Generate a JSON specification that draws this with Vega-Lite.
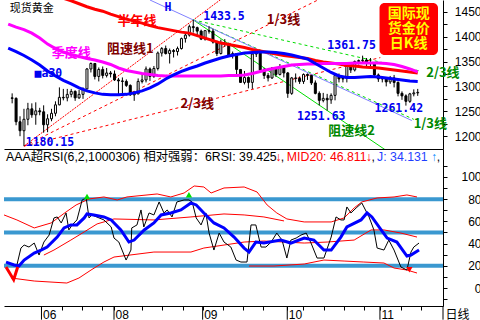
{
"$schema": "https://vega.github.io/schema/vega-lite/v6.json",
"background": "#ffffff",
"padding": 0,
"spacing": 0,
"config": {"view": {"stroke": null}, "axis": {"grid": false, "domainColor": "#000000", "tickColor": "#000000", "labelColor": "#000000", "labelFont": "Liberation Sans", "labelFontSize": 12, "domainWidth": 1, "tickWidth": 1}},
"resolve": {"scale": {"x": "independent", "y": "independent", "color": "independent"}},
"datasets": {
"candles": [
{"i":-1,"o":1277,"h":1286,"l":1266,"c":1276},{"i":0,"o":1276,"h":1278,"l":1222,"c":1229},{"i":1,"o":1229,"h":1240,"l":1200,"c":1211},{"i":2,"o":1211,"h":1255,"l":1180.15,"c":1234},
{"i":3,"o":1234,"h":1267,"l":1222,"c":1255},{"i":4,"o":1255,"h":1266,"l":1237,"c":1243},{"i":5,"o":1243,"h":1268,"l":1223,"c":1251},{"i":6,"o":1251,"h":1257,"l":1242,"c":1249},
{"i":7,"o":1249,"h":1262,"l":1207,"c":1223},{"i":8,"o":1223,"h":1244,"l":1208,"c":1235},{"i":9,"o":1235,"h":1255,"l":1230,"c":1246},{"i":10,"o":1246,"h":1270,"l":1240,"c":1263},
{"i":11,"o":1263,"h":1298,"l":1262,"c":1278},{"i":12,"o":1278,"h":1295,"l":1272,"c":1277},{"i":13,"o":1277,"h":1295,"l":1270,"c":1284},{"i":14,"o":1284,"h":1295,"l":1278,"c":1290},
{"i":15,"o":1290,"h":1292,"l":1271,"c":1277},{"i":16,"o":1277,"h":1293,"l":1275,"c":1284},{"i":17,"o":1284,"h":1298,"l":1275,"c":1295},{"i":18,"o":1295,"h":1337,"l":1294,"c":1335},
{"i":19,"o":1335,"h":1348,"l":1328,"c":1346},{"i":20,"o":1346,"h":1347,"l":1314,"c":1320},{"i":21,"o":1320,"h":1338,"l":1310,"c":1334},{"i":22,"o":1334,"h":1340,"l":1316,"c":1322},
{"i":23,"o":1322,"h":1337,"l":1318,"c":1327},{"i":24,"o":1327,"h":1331,"l":1318,"c":1325},{"i":25,"o":1325,"h":1332,"l":1311,"c":1313},{"i":26,"o":1313,"h":1317,"l":1284,"c":1311},
{"i":27,"o":1311,"h":1318,"l":1284,"c":1310},{"i":28,"o":1310,"h":1314,"l":1299,"c":1302},{"i":29,"o":1302,"h":1304,"l":1281,"c":1283},{"i":30,"o":1283,"h":1291,"l":1271,"c":1285},
{"i":31,"o":1285,"h":1316,"l":1284,"c":1310},{"i":32,"o":1310,"h":1324,"l":1306,"c":1313},{"i":33,"o":1313,"h":1340,"l":1308,"c":1335},{"i":34,"o":1335,"h":1338,"l":1311,"c":1320},
{"i":35,"o":1320,"h":1341,"l":1317,"c":1336},{"i":36,"o":1336,"h":1370,"l":1332,"c":1367},{"i":37,"o":1367,"h":1379,"l":1360,"c":1376},{"i":38,"o":1376,"h":1382,"l":1364,"c":1366},
{"i":39,"o":1366,"h":1376,"l":1346,"c":1372},{"i":40,"o":1372,"h":1375,"l":1358,"c":1370},{"i":41,"o":1370,"h":1380,"l":1362,"c":1376},{"i":42,"o":1376,"h":1398,"l":1374,"c":1396},
{"i":43,"o":1396,"h":1407,"l":1388,"c":1403},{"i":44,"o":1403,"h":1424,"l":1400,"c":1420},{"i":45,"o":1420,"h":1433.5,"l":1408,"c":1418},{"i":46,"o":1418,"h":1420,"l":1400,"c":1411},
{"i":47,"o":1411,"h":1414,"l":1393,"c":1395},{"i":48,"o":1395,"h":1412,"l":1392,"c":1412},{"i":49,"o":1412,"h":1421,"l":1406,"c":1411},{"i":50,"o":1411,"h":1416,"l":1386,"c":1389},
{"i":51,"o":1389,"h":1392,"l":1361,"c":1366},{"i":52,"o":1366,"h":1394,"l":1364,"c":1387},{"i":53,"o":1387,"h":1395,"l":1380,"c":1385},{"i":54,"o":1385,"h":1388,"l":1360,"c":1363},
{"i":55,"o":1363,"h":1370,"l":1356,"c":1366},{"i":56,"o":1366,"h":1367,"l":1319,"c":1334},{"i":57,"o":1334,"h":1335,"l":1307,"c":1308},{"i":58,"o":1308,"h":1331,"l":1304,"c":1318},
{"i":59,"o":1318,"h":1320,"l":1296,"c":1308},{"i":60,"o":1308,"h":1368,"l":1295,"c":1365},{"i":61,"o":1365,"h":1372,"l":1359,"c":1367},{"i":62,"o":1367,"h":1368,"l":1328,"c":1333},
{"i":63,"o":1333,"h":1337,"l":1315,"c":1322},{"i":64,"o":1322,"h":1327,"l":1310,"c":1317},{"i":65,"o":1317,"h":1339,"l":1315,"c":1337},{"i":66,"o":1337,"h":1339,"l":1319,"c":1324},
{"i":67,"o":1324,"h":1345,"l":1322,"c":1338},{"i":68,"o":1338,"h":1340,"l":1318,"c":1327},{"i":69,"o":1327,"h":1329,"l":1277,"c":1286},{"i":70,"o":1286,"h":1319,"l":1283,"c":1317},
{"i":71,"o":1317,"h":1326,"l":1308,"c":1316},{"i":72,"o":1316,"h":1320,"l":1305,"c":1310},{"i":73,"o":1310,"h":1326,"l":1305,"c":1324},{"i":74,"o":1324,"h":1326,"l":1313,"c":1322},
{"i":75,"o":1322,"h":1323,"l":1303,"c":1307},{"i":76,"o":1307,"h":1312,"l":1284,"c":1286},{"i":77,"o":1286,"h":1290,"l":1262,"c":1272},{"i":78,"o":1272,"h":1287,"l":1268,"c":1276},
{"i":79,"o":1276,"h":1285,"l":1251.63,"c":1273},{"i":80,"o":1273,"h":1286,"l":1265,"c":1282},{"i":81,"o":1282,"h":1324,"l":1272,"c":1322},{"i":82,"o":1322,"h":1326,"l":1308,"c":1315},
{"i":83,"o":1315,"h":1320,"l":1308,"c":1316},{"i":84,"o":1316,"h":1344,"l":1308,"c":1340},{"i":85,"o":1340,"h":1341,"l":1327,"c":1333},{"i":86,"o":1333,"h":1352,"l":1330,"c":1350},
{"i":87,"o":1350,"h":1354,"l":1344,"c":1352},{"i":88,"o":1352,"h":1361.75,"l":1347,"c":1353},{"i":89,"o":1353,"h":1357,"l":1341,"c":1346},{"i":90,"o":1346,"h":1357,"l":1340,"c":1348},
{"i":91,"o":1348,"h":1349,"l":1318,"c":1323},{"i":92,"o":1323,"h":1326,"l":1309,"c":1315},{"i":93,"o":1315,"h":1320,"l":1308,"c":1316},{"i":94,"o":1316,"h":1317,"l":1300,"c":1309},
{"i":95,"o":1309,"h":1321,"l":1305,"c":1317},{"i":96,"o":1317,"h":1323,"l":1298,"c":1308},{"i":97,"o":1308,"h":1310,"l":1280,"c":1286},{"i":98,"o":1286,"h":1290,"l":1273,"c":1281},
{"i":99,"o":1281,"h":1284,"l":1261.42,"c":1270},{"i":100,"o":1270,"h":1287,"l":1267,"c":1285},{"i":101,"o":1285,"h":1294,"l":1280,"c":1287},{"i":102,"o":1287,"h":1295,"l":1281,"c":1288}
],
"ma": [
{"i":-2,"hy":1512,"q":1425,"m":1377},{"i":0,"hy":1508,"q":1419,"m":1370},{"i":2,"hy":1502,"q":1414,"m":1362},{"i":4,"hy":1496,"q":1407,"m":1353},
{"i":6,"hy":1490,"q":1397,"m":1343},{"i":8,"hy":1486,"q":1385,"m":1331},{"i":10,"hy":1482,"q":1376,"m":1321},{"i":12,"hy":1477,"q":1369,"m":1312},
{"i":14,"hy":1472,"q":1364,"m":1305},{"i":16,"hy":1466,"q":1360,"m":1297},{"i":18,"hy":1460,"q":1356,"m":1291},{"i":20,"hy":1455,"q":1353,"m":1287},
{"i":22,"hy":1451,"q":1349,"m":1284},{"i":24,"hy":1445,"q":1344,"m":1283},{"i":26,"hy":1440,"q":1337,"m":1283},{"i":28,"hy":1435,"q":1332,"m":1284},
{"i":30,"hy":1431,"q":1329,"m":1287},{"i":32,"hy":1427,"q":1326,"m":1291},{"i":34,"hy":1422,"q":1324,"m":1297},{"i":36,"hy":1418,"q":1322,"m":1305},
{"i":38,"hy":1415,"q":1321,"m":1315},{"i":40,"hy":1412,"q":1321,"m":1323},{"i":42,"hy":1409,"q":1321,"m":1330},{"i":44,"hy":1407,"q":1321,"m":1336},
{"i":46,"hy":1402,"q":1321,"m":1341},{"i":48,"hy":1397,"q":1321,"m":1347},{"i":50,"hy":1392,"q":1321,"m":1352},{"i":52,"hy":1387,"q":1321,"m":1357},
{"i":54,"hy":1384,"q":1322,"m":1361},{"i":56,"hy":1381,"q":1322,"m":1364},{"i":58,"hy":1378,"q":1323,"m":1367},{"i":60,"hy":1374,"q":1326,"m":1368},
{"i":62,"hy":1371,"q":1330,"m":1369},{"i":64,"hy":1368,"q":1334,"m":1369},{"i":66,"hy":1365,"q":1337,"m":1368},{"i":68,"hy":1362,"q":1340,"m":1366},
{"i":70,"hy":1360,"q":1343,"m":1363},{"i":72,"hy":1358,"q":1344,"m":1359},{"i":74,"hy":1356,"q":1345,"m":1355},{"i":76,"hy":1352,"q":1345,"m":1346},
{"i":78,"hy":1349,"q":1346,"m":1337},{"i":80,"hy":1347,"q":1346,"m":1328},{"i":82,"hy":1345,"q":1346,"m":1321},{"i":84,"hy":1342,"q":1346,"m":1318},
{"i":86,"hy":1341,"q":1347,"m":1318},{"i":88,"hy":1339,"q":1347,"m":1319},{"i":90,"hy":1338,"q":1347,"m":1320},{"i":92,"hy":1337,"q":1347,"m":1319},
{"i":94,"hy":1335,"q":1346,"m":1317},{"i":96,"hy":1333,"q":1344,"m":1315},{"i":98,"hy":1331,"q":1340,"m":1313},{"i":100,"hy":1329,"q":1335,"m":1311},
{"i":102,"hy":1327,"q":1329,"m":1310}
],
"trend": [
{"kind":"redfull","i":2,"p":1180.15,"i2":52,"p2":1474.65},
{"kind":"reddash","i":2,"p":1180.15,"i2":77,"p2":1474.9},
{"kind":"reddash","i":2,"p":1180.15,"i2":92.5,"p2":1357.9},
{"kind":"greensolid","i":45,"p":1433.5,"i2":94,"p2":1171.4},
{"kind":"greendash","i":45,"p":1433.5,"i2":102.4,"p2":1331.2},
{"kind":"greendash","i":45,"p":1433.5,"i2":101,"p2":1233.8},
{"kind":"hline","i":34,"p":1473.5,"i2":100.5,"p2":1231.5}
],
"title": [{"i":4.0,"p":1455,"t":"现货黄金"}],
"notes": [
{"kind":"red","i":30.7,"p":1431,"t":"半年线"},
{"kind":"magenta","i":14,"p":1368,"t":"季度线"},
{"kind":"darkred","i":29,"p":1375,"t":"阻速线1"},
{"kind":"darkred","i":67.9,"p":1433,"t":"1/3线"},
{"kind":"darkred","i":46,"p":1265,"t":"2/3线"},
{"kind":"green","i":85.2,"p":1210.5,"t":"阻速线2"},
{"kind":"green","i":108.4,"p":1327,"t":"2/3线"},
{"kind":"green","i":105.2,"p":1224.5,"t":"1/3线"}
],
"nums": [
{"i":8.2,"p":1325,"t":"■a30"},
{"i":52.8,"p":1439,"t":"1433.5"},
{"i":8.6,"p":1186,"t":"1180.15"},
{"i":85.2,"p":1381,"t":"1361.75"},
{"i":77.5,"p":1237.6,"t":"1251.63"},
{"i":97.2,"p":1254.6,"t":"1261.42"},
{"i":38.6,"p":1458,"t":"H"}
],
"box": [{"i":92.3,"i2":107.15,"p":1467.5,"p2":1363}],
"boxtext": [
{"i":99.7,"t":"国际现","p":1445.5},{"i":99.7,"t":"货金价","p":1414.5},{"i":99.7,"t":"日K线","p":1384.5}
],
"levels": [{"v":20},{"v":50},{"v":80}],
"months": [{"i":7.5},{"i":25.5},{"i":47.5},{"i":68.5},{"i":91.5},{"i":107.15}],
"bands": [
{"b":"r1","i":-1.8,"v":65.8},{"b":"r1","i":1.4,"v":61.3},{"b":"r1","i":5.7,"v":54.1},{"b":"r1","i":9.9,"v":58.6},{"b":"r1","i":13.6,"v":68.5},{"b":"r1","i":16.1,"v":74.8},{"b":"r1","i":19.3,"v":80.2},{"b":"r1","i":23.0,"v":82.0},{"b":"r1","i":26.3,"v":79.3},{"b":"r1","i":28.7,"v":82.0},{"b":"r1","i":36.2,"v":84.7},{"b":"r1","i":39.6,"v":82.0},{"b":"r1","i":42.9,"v":85.6},{"b":"r1","i":45.4,"v":91.9},{"b":"r1","i":47.8,"v":91.0},{"b":"r1","i":49.6,"v":85.6},{"b":"r1","i":52.8,"v":90.1},{"b":"r1","i":57.8,"v":91.0},{"b":"r1","i":61.0,"v":86.5},{"b":"r1","i":63.5,"v":74.8},{"b":"r1","i":65.9,"v":67.6},{"b":"r1","i":68.4,"v":62.2},{"b":"r1","i":72.7,"v":59.5},{"b":"r1","i":79.4,"v":59.5},{"b":"r1","i":82.6,"v":63.1},{"b":"r1","i":85.1,"v":72.1},{"b":"r1","i":87.0,"v":77.5},{"b":"r1","i":90.8,"v":81.1},{"b":"r1","i":95.0,"v":82.0},{"b":"r1","i":98.2,"v":83.8},{"b":"r1","i":100.7,"v":82.0},
{"b":"r2","i":8.1,"v":29.7},{"b":"r2","i":10.6,"v":34.2},{"b":"r2","i":14.8,"v":43.2},{"b":"r2","i":18.1,"v":50.5},{"b":"r2","i":21.3,"v":57.7},{"b":"r2","i":25.5,"v":62.2},{"b":"r2","i":35.4,"v":61.3},{"b":"r2","i":44.6,"v":64.0},{"b":"r2","i":52.8,"v":66.7},{"b":"r2","i":57.8,"v":65.8},{"b":"r2","i":62.7,"v":64.0},{"b":"r2","i":67.7,"v":60.4},
{"b":"r3","i":0.0,"v":9.0},{"b":"r3","i":5.7,"v":6.3},{"b":"r3","i":13.8,"v":4.5},{"b":"r3","i":16.8,"v":9.0},{"b":"r3","i":19.8,"v":16.2},{"b":"r3","i":23.0,"v":23.4},{"b":"r3","i":25.5,"v":27.9},{"b":"r3","i":35.4,"v":32.4},{"b":"r3","i":44.6,"v":32.4},{"b":"r3","i":47.8,"v":36.0},{"b":"r3","i":57.8,"v":41.4},{"b":"r3","i":62.7,"v":42.3},{"b":"r3","i":72.7,"v":40.5},{"b":"r3","i":78.4,"v":41.4},{"b":"r3","i":85.1,"v":43.2},{"b":"r3","i":89.3,"v":52.3},{"b":"r3","i":92.5,"v":52.3},{"b":"r3","i":96.7,"v":49.5},{"b":"r3","i":100.7,"v":45.9},
{"b":"r4","i":59.0,"v":19.8},{"b":"r4","i":65.2,"v":19.8},{"b":"r4","i":72.7,"v":21.6},{"b":"r4","i":77.6,"v":25.2},{"b":"r4","i":82.6,"v":24.3},{"b":"r4","i":87.5,"v":23.4},{"b":"r4","i":92.5,"v":22.5},{"b":"r4","i":95.0,"v":18.0},{"b":"r4","i":98.2,"v":16.2},{"b":"r4","i":100.7,"v":13.5}
],
"rsi": [
{"i":1.4,"v":20.7},{"i":2.4,"v":36.0},{"i":3.2,"v":38.7},{"i":4.4,"v":36.9},{"i":5.7,"v":40.5},{"i":6.9,"v":29.7},{"i":8.1,"v":41.4},{"i":9.4,"v":47.7},{"i":10.6,"v":63.1},{"i":11.4,"v":64.0},{"i":12.4,"v":58.6},{"i":13.6,"v":67.6},{"i":14.3,"v":52.3},{"i":15.1,"v":56.8},{"i":16.3,"v":61.3},{"i":17.6,"v":79.3},{"i":18.6,"v":81.1},{"i":19.3,"v":63.1},{"i":20.0,"v":65.8},{"i":23.0,"v":61.3},{"i":24.8,"v":55.0},{"i":25.5,"v":45.0},{"i":26.7,"v":41.4},{"i":27.5,"v":34.2},{"i":28.5,"v":25.2},{"i":29.7,"v":34.2},{"i":29.9,"v":54.1},{"i":31.2,"v":56.8},{"i":32.2,"v":70.3},{"i":32.9,"v":55.0},{"i":34.2,"v":67.6},{"i":35.4,"v":65.8},{"i":36.7,"v":77.5},{"i":37.9,"v":67.6},{"i":38.7,"v":70.3},{"i":39.9,"v":64.0},{"i":41.1,"v":77.5},{"i":42.9,"v":79.3},{"i":44.1,"v":79.3},{"i":44.9,"v":77.5},{"i":45.9,"v":63.1},{"i":47.1,"v":56.8},{"i":48.3,"v":67.6},{"i":49.1,"v":49.5},{"i":50.3,"v":34.2},{"i":51.6,"v":49.5},{"i":52.8,"v":41.4},{"i":54.5,"v":36.9},{"i":55.8,"v":25.2},{"i":57.0,"v":23.4},{"i":58.5,"v":23.4},{"i":59.5,"v":56.8},{"i":60.7,"v":56.8},{"i":62.0,"v":36.9},{"i":63.2,"v":36.9},{"i":64.5,"v":41.4},{"i":65.9,"v":49.5},{"i":67.2,"v":43.2},{"i":68.4,"v":27.0},{"i":69.4,"v":43.2},{"i":70.7,"v":45.0},{"i":71.9,"v":47.7},{"i":73.2,"v":49.5},{"i":74.4,"v":40.5},{"i":75.9,"v":27.0},{"i":77.6,"v":27.0},{"i":79.4,"v":45.9},{"i":80.6,"v":64.0},{"i":81.8,"v":61.3},{"i":82.6,"v":61.3},{"i":83.3,"v":73.0},{"i":84.3,"v":67.6},{"i":85.6,"v":72.1},{"i":87.0,"v":76.6},{"i":88.8,"v":64.0},{"i":90.0,"v":52.3},{"i":90.8,"v":36.0},{"i":92.5,"v":34.2},{"i":93.7,"v":43.2},{"i":95.0,"v":34.2},{"i":96.7,"v":18.9},{"i":98.2,"v":16.2},{"i":99.2,"v":32.4},{"i":99.9,"v":36.9},{"i":101.2,"v":40.5}
],
"rsima": [
{"i":-1.3,"v":23.4},{"i":0.7,"v":20.7},{"i":1.9,"v":19.8},{"i":3.2,"v":25.2},{"i":5.7,"v":31.5},{"i":7.4,"v":34.2},{"i":8.9,"v":36.9},{"i":11.4,"v":45.9},{"i":13.1,"v":54.1},{"i":14.8,"v":56.8},{"i":16.3,"v":56.8},{"i":18.1,"v":63.1},{"i":18.8,"v":66.7},{"i":20.5,"v":65.8},{"i":23.0,"v":64.0},{"i":24.8,"v":61.3},{"i":27.2,"v":52.3},{"i":29.2,"v":41.4},{"i":30.5,"v":43.2},{"i":33.0,"v":52.3},{"i":35.4,"v":58.6},{"i":37.2,"v":65.8},{"i":39.6,"v":67.6},{"i":42.1,"v":70.3},{"i":44.6,"v":76.6},{"i":45.9,"v":74.8},{"i":47.8,"v":67.6},{"i":50.3,"v":58.6},{"i":52.8,"v":54.1},{"i":55.3,"v":45.9},{"i":57.8,"v":36.0},{"i":59.0,"v":32.4},{"i":60.7,"v":41.4},{"i":62.7,"v":40.5},{"i":66.9,"v":43.2},{"i":69.4,"v":40.5},{"i":72.7,"v":45.0},{"i":75.1,"v":43.2},{"i":77.6,"v":34.2},{"i":79.4,"v":34.2},{"i":81.8,"v":45.9},{"i":83.3,"v":55.0},{"i":86.8,"v":61.3},{"i":88.3,"v":67.6},{"i":89.5,"v":64.0},{"i":91.8,"v":52.3},{"i":93.3,"v":45.0},{"i":95.7,"v":41.4},{"i":98.2,"v":28.8},{"i":99.2,"v":29.7},{"i":101.2,"v":34.2}
],
"vmark": [{"i":-1.3,"v":18.9},{"i":0.6,"v":7.5},{"i":1.6,"v":18.9}],
"sigup": [{"i":18.8,"v":82.5},{"i":44.1,"v":84}],
"sigdown": [{"i":98.8,"v":16.5}],
"hdr": [
{"i":-1.29,"t":"AAA超RSI(6,2,1000306) 相对强弱：6RSI: 39.425","col":"k"},
{"i":65.5,"t":"↓","col":"r"},
{"i":66.9,"t":",","col":"k"},
{"i":68.4,"t":"MID20: 46.811","col":"r"},
{"i":88.0,"t":"↓","col":"r"},
{"i":89.4,"t":",","col":"k"},
{"i":90.8,"t":"J: 34.131","col":"b"},
{"i":104.2,"t":"↑","col":"c"},
{"i":105.6,"t":",","col":"k"}
]
},
"vconcat": [
{
"width": 439, "height": 149,
"encoding": {"x": {"field": "i", "type": "quantitative", "scale": {"domain": [-1.8, 107.15], "nice": false, "zero": false}, "axis": {"orient": "bottom", "title": null, "ticks": false, "labels": false, "domainColor": "#000000"}}},
"layer": [
{"data": {"name": "trend"}, "transform": [{"filter": "datum.kind == 'redfull'"}],
 "mark": {"type": "rule", "color": "#ff0000", "strokeWidth": 1, "strokeDash": [2, 1], "clip": true},
 "encoding": {"x2": {"field": "i2"},
  "y": {"field": "p", "type": "quantitative", "scale": {"domain": [1174.3, 1473.5], "nice": false, "zero": false}, "axis": {"orient": "right", "title": null, "values": [1200, 1225, 1250, 1275, 1300, 1325, 1350, 1375, 1400, 1425, 1450], "format": "d", "labelExpr": "datum.value % 50 == 0 ? datum.label : ''", "tickSize": 4, "labelPadding": 34, "labelAlign": "right", "labelBaseline": "middle", "labelOverlap": false, "labelBound": false}},
  "y2": {"field": "p2"}}},
{"data": {"name": "trend"}, "transform": [{"filter": "datum.kind == 'reddash'"}],
 "mark": {"type": "rule", "color": "#ff0000", "strokeWidth": 1, "strokeDash": [3, 3], "clip": true},
 "encoding": {"x2": {"field": "i2"},
  "y": {"field": "p", "type": "quantitative", "scale": {"domain": [1174.3, 1473.5], "nice": false, "zero": false}, "axis": {"orient": "right", "title": null, "values": [1200, 1225, 1250, 1275, 1300, 1325, 1350, 1375, 1400, 1425, 1450], "format": "d", "labelExpr": "datum.value % 50 == 0 ? datum.label : ''", "tickSize": 4, "labelPadding": 34, "labelAlign": "right", "labelBaseline": "middle", "labelOverlap": false, "labelBound": false}},
  "y2": {"field": "p2"}}},
{"data": {"name": "trend"}, "transform": [{"filter": "datum.kind == 'greensolid'"}],
 "mark": {"type": "rule", "color": "#00dd00", "strokeWidth": 1, "clip": true},
 "encoding": {"x2": {"field": "i2"},
  "y": {"field": "p", "type": "quantitative", "scale": {"domain": [1174.3, 1473.5], "nice": false, "zero": false}, "axis": {"orient": "right", "title": null, "values": [1200, 1225, 1250, 1275, 1300, 1325, 1350, 1375, 1400, 1425, 1450], "format": "d", "labelExpr": "datum.value % 50 == 0 ? datum.label : ''", "tickSize": 4, "labelPadding": 34, "labelAlign": "right", "labelBaseline": "middle", "labelOverlap": false, "labelBound": false}},
  "y2": {"field": "p2"}}},
{"data": {"name": "trend"}, "transform": [{"filter": "datum.kind == 'greendash'"}],
 "mark": {"type": "rule", "color": "#00dd00", "strokeWidth": 1, "strokeDash": [3, 3], "clip": true},
 "encoding": {"x2": {"field": "i2"},
  "y": {"field": "p", "type": "quantitative", "scale": {"domain": [1174.3, 1473.5], "nice": false, "zero": false}, "axis": {"orient": "right", "title": null, "values": [1200, 1225, 1250, 1275, 1300, 1325, 1350, 1375, 1400, 1425, 1450], "format": "d", "labelExpr": "datum.value % 50 == 0 ? datum.label : ''", "tickSize": 4, "labelPadding": 34, "labelAlign": "right", "labelBaseline": "middle", "labelOverlap": false, "labelBound": false}},
  "y2": {"field": "p2"}}},
{"data": {"name": "trend"}, "transform": [{"filter": "datum.kind == 'hline'"}],
 "mark": {"type": "rule", "color": "#8080ff", "strokeWidth": 1, "clip": true},
 "encoding": {"x2": {"field": "i2"},
  "y": {"field": "p", "type": "quantitative", "scale": {"domain": [1174.3, 1473.5], "nice": false, "zero": false}, "axis": {"orient": "right", "title": null, "values": [1200, 1225, 1250, 1275, 1300, 1325, 1350, 1375, 1400, 1425, 1450], "format": "d", "labelExpr": "datum.value % 50 == 0 ? datum.label : ''", "tickSize": 4, "labelPadding": 34, "labelAlign": "right", "labelBaseline": "middle", "labelOverlap": false, "labelBound": false}},
  "y2": {"field": "p2"}}},
{"data": {"name": "candles"},
 "mark": {"type": "rule", "color": "#000000", "strokeWidth": 1},
 "encoding": {
  "y": {"field": "l", "type": "quantitative", "scale": {"domain": [1174.3, 1473.5], "nice": false, "zero": false}, "axis": {"orient": "right", "title": null, "values": [1200, 1225, 1250, 1275, 1300, 1325, 1350, 1375, 1400, 1425, 1450], "format": "d", "labelExpr": "datum.value % 50 == 0 ? datum.label : ''", "tickSize": 4, "labelPadding": 34, "labelAlign": "right", "labelBaseline": "middle", "labelOverlap": false, "labelBound": false}},
  "y2": {"field": "h"}}},
{"data": {"name": "candles"},
 "mark": {"type": "bar", "size": 2, "stroke": "#000000", "strokeWidth": 1, "orient": "vertical"},
 "encoding": {
  "y": {"field": "o", "type": "quantitative", "scale": {"domain": [1174.3, 1473.5], "nice": false, "zero": false}, "axis": {"orient": "right", "title": null, "values": [1200, 1225, 1250, 1275, 1300, 1325, 1350, 1375, 1400, 1425, 1450], "format": "d", "labelExpr": "datum.value % 50 == 0 ? datum.label : ''", "tickSize": 4, "labelPadding": 34, "labelAlign": "right", "labelBaseline": "middle", "labelOverlap": false, "labelBound": false}},
  "y2": {"field": "c"},
  "fill": {"condition": {"test": "datum.c < datum.o", "value": "#000000"}, "value": "#ffffff"}}},
{"data": {"name": "ma"},
 "mark": {"type": "line", "color": "#ff0000", "strokeWidth": 3, "clip": true},
 "encoding": {
  "y": {"field": "hy", "type": "quantitative", "scale": {"domain": [1174.3, 1473.5], "nice": false, "zero": false}, "axis": {"orient": "right", "title": null, "values": [1200, 1225, 1250, 1275, 1300, 1325, 1350, 1375, 1400, 1425, 1450], "format": "d", "labelExpr": "datum.value % 50 == 0 ? datum.label : ''", "tickSize": 4, "labelPadding": 34, "labelAlign": "right", "labelBaseline": "middle", "labelOverlap": false, "labelBound": false}}}},
{"data": {"name": "ma"},
 "mark": {"type": "line", "color": "#ff00ff", "strokeWidth": 3, "clip": true},
 "encoding": {
  "y": {"field": "q", "type": "quantitative", "scale": {"domain": [1174.3, 1473.5], "nice": false, "zero": false}, "axis": {"orient": "right", "title": null, "values": [1200, 1225, 1250, 1275, 1300, 1325, 1350, 1375, 1400, 1425, 1450], "format": "d", "labelExpr": "datum.value % 50 == 0 ? datum.label : ''", "tickSize": 4, "labelPadding": 34, "labelAlign": "right", "labelBaseline": "middle", "labelOverlap": false, "labelBound": false}}}},
{"data": {"name": "ma"},
 "mark": {"type": "line", "color": "#0000ff", "strokeWidth": 3, "clip": true},
 "encoding": {
  "y": {"field": "m", "type": "quantitative", "scale": {"domain": [1174.3, 1473.5], "nice": false, "zero": false}, "axis": {"orient": "right", "title": null, "values": [1200, 1225, 1250, 1275, 1300, 1325, 1350, 1375, 1400, 1425, 1450], "format": "d", "labelExpr": "datum.value % 50 == 0 ? datum.label : ''", "tickSize": 4, "labelPadding": 34, "labelAlign": "right", "labelBaseline": "middle", "labelOverlap": false, "labelBound": false}}}},
{"data": {"name": "box"},
 "mark": {"type": "rect", "fill": "#ff0000", "cornerRadius": 5},
 "encoding": {"x2": {"field": "i2"},
  "y": {"field": "p", "type": "quantitative", "scale": {"domain": [1174.3, 1473.5], "nice": false, "zero": false}, "axis": {"orient": "right", "title": null, "values": [1200, 1225, 1250, 1275, 1300, 1325, 1350, 1375, 1400, 1425, 1450], "format": "d", "labelExpr": "datum.value % 50 == 0 ? datum.label : ''", "tickSize": 4, "labelPadding": 34, "labelAlign": "right", "labelBaseline": "middle", "labelOverlap": false, "labelBound": false}},
  "y2": {"field": "p2"}}},
{"data": {"name": "boxtext"},
 "mark": {"type": "text", "color": "#ffff00", "font": "Noto Sans CJK SC", "fontSize": 14, "fontWeight": "bold", "align": "center", "baseline": "middle"},
 "encoding": {
  "y": {"field": "p", "type": "quantitative", "scale": {"domain": [1174.3, 1473.5], "nice": false, "zero": false}, "axis": {"orient": "right", "title": null, "values": [1200, 1225, 1250, 1275, 1300, 1325, 1350, 1375, 1400, 1425, 1450], "format": "d", "labelExpr": "datum.value % 50 == 0 ? datum.label : ''", "tickSize": 4, "labelPadding": 34, "labelAlign": "right", "labelBaseline": "middle", "labelOverlap": false, "labelBound": false}},
  "text": {"field": "t"}}},
{"data": {"name": "title"},
 "mark": {"type": "text", "baseline": "middle", "align": "center", "font": "Noto Sans CJK SC", "fontSize": 11, "color": "#000000"},
 "encoding": {
  "y": {"field": "p", "type": "quantitative", "scale": {"domain": [1174.3, 1473.5], "nice": false, "zero": false}, "axis": {"orient": "right", "title": null, "values": [1200, 1225, 1250, 1275, 1300, 1325, 1350, 1375, 1400, 1425, 1450], "format": "d", "labelExpr": "datum.value % 50 == 0 ? datum.label : ''", "tickSize": 4, "labelPadding": 34, "labelAlign": "right", "labelBaseline": "middle", "labelOverlap": false, "labelBound": false}},
  "text": {"field": "t"}}},
{"data": {"name": "notes"},
 "mark": {"type": "text", "baseline": "middle", "align": "center", "fontWeight": "bold", "font": "Noto Sans CJK SC", "fontSize": 13},
 "encoding": {
  "y": {"field": "p", "type": "quantitative", "scale": {"domain": [1174.3, 1473.5], "nice": false, "zero": false}, "axis": {"orient": "right", "title": null, "values": [1200, 1225, 1250, 1275, 1300, 1325, 1350, 1375, 1400, 1425, 1450], "format": "d", "labelExpr": "datum.value % 50 == 0 ? datum.label : ''", "tickSize": 4, "labelPadding": 34, "labelAlign": "right", "labelBaseline": "middle", "labelOverlap": false, "labelBound": false}},
  "text": {"field": "t"},
  "color": {"field": "kind", "type": "nominal", "legend": null, "scale": {"domain": ["red", "magenta", "darkred", "green"], "range": ["#ff0000", "#ff00ff", "#800000", "#008800"]}}}},
{"data": {"name": "nums"},
 "mark": {"type": "text", "baseline": "middle", "align": "center", "fontWeight": "bold", "font": "DejaVu Sans Mono", "fontSize": 11.5, "color": "#0000f0"},
 "encoding": {
  "y": {"field": "p", "type": "quantitative", "scale": {"domain": [1174.3, 1473.5], "nice": false, "zero": false}, "axis": {"orient": "right", "title": null, "values": [1200, 1225, 1250, 1275, 1300, 1325, 1350, 1375, 1400, 1425, 1450], "format": "d", "labelExpr": "datum.value % 50 == 0 ? datum.label : ''", "tickSize": 4, "labelPadding": 34, "labelAlign": "right", "labelBaseline": "middle", "labelOverlap": false, "labelBound": false}},
  "text": {"field": "t"}}}
]
},
{
"width": 439, "height": 157,
"layer": [
{"data": {"name": "levels"},
 "mark": {"type": "rule", "color": "#3a98d0", "strokeWidth": 4},
 "encoding": {
  "y": {"field": "v", "type": "quantitative", "scale": {"domain": [-16.2, 125.2], "nice": false, "zero": false}, "axis": {"orient": "right", "title": null, "values": [-10, 0, 10, 20, 30, 40, 50, 60, 70, 80, 90, 100, 110], "labelExpr": "datum.value % 20 == 0 && datum.value >= 0 && datum.value <= 100 ? datum.label : ''", "tickSize": 4, "labelPadding": 34, "labelAlign": "right", "labelBaseline": "middle", "labelOverlap": false, "labelBound": false}}}},
{"data": {"name": "bands"},
 "mark": {"type": "line", "color": "#ff0000", "strokeWidth": 1},
 "encoding": {
  "x": {"field": "i", "type": "quantitative", "scale": {"domain": [-1.8, 107.15], "nice": false, "zero": false}, "axis": {"orient": "bottom", "title": "日线", "titleX": 441, "titleY": 8, "titleAlign": "left", "titleBaseline": "middle", "titleAnchor": "start", "titleFont": "Noto Sans CJK SC", "titleFontSize": 12, "titleFontWeight": "normal", "titleColor": "#000000", "values": [7.5, 12.5, 17.5, 22.5, 25.5, 32.5, 37.5, 42.5, 47.5, 52.5, 57.5, 62.5, 68.5, 72.5, 77.5, 82.5, 87.5, 91.5, 96.7, 101.7], "tickSize": 4, "labelExpr": "datum.value == 7.5 ? '06' : datum.value == 25.5 ? '08' : datum.value == 47.5 ? '09' : datum.value == 68.5 ? '10' : datum.value == 91.5 ? '11' : ''", "labelAlign": "left", "labelBaseline": "middle", "labelPadding": 4, "labelOffset": 1, "labelOverlap": false, "labelFlush": false, "labelBound": false}},
  "y": {"field": "v", "type": "quantitative", "scale": {"domain": [-16.2, 125.2], "nice": false, "zero": false}, "axis": {"orient": "right", "title": null, "values": [-10, 0, 10, 20, 30, 40, 50, 60, 70, 80, 90, 100, 110], "labelExpr": "datum.value % 20 == 0 && datum.value >= 0 && datum.value <= 100 ? datum.label : ''", "tickSize": 4, "labelPadding": 34, "labelAlign": "right", "labelBaseline": "middle", "labelOverlap": false, "labelBound": false}},
  "detail": {"field": "b"}}},
{"data": {"name": "months"},
 "mark": {"type": "rule", "color": "#000000", "strokeWidth": 1},
 "encoding": {
  "x": {"field": "i", "type": "quantitative", "scale": {"domain": [-1.8, 107.15], "nice": false, "zero": false}, "axis": {"orient": "bottom", "title": "日线", "titleX": 441, "titleY": 8, "titleAlign": "left", "titleBaseline": "middle", "titleAnchor": "start", "titleFont": "Noto Sans CJK SC", "titleFontSize": 12, "titleFontWeight": "normal", "titleColor": "#000000", "values": [7.5, 12.5, 17.5, 22.5, 25.5, 32.5, 37.5, 42.5, 47.5, 52.5, 57.5, 62.5, 68.5, 72.5, 77.5, 82.5, 87.5, 91.5, 96.7, 101.7], "tickSize": 4, "labelExpr": "datum.value == 7.5 ? '06' : datum.value == 25.5 ? '08' : datum.value == 47.5 ? '09' : datum.value == 68.5 ? '10' : datum.value == 91.5 ? '11' : ''", "labelAlign": "left", "labelBaseline": "middle", "labelPadding": 4, "labelOffset": 1, "labelOverlap": false, "labelFlush": false, "labelBound": false}},
  "y": {"datum": -16.2, "type": "quantitative", "scale": {"domain": [-16.2, 125.2], "nice": false, "zero": false}, "axis": {"orient": "right", "title": null, "values": [-10, 0, 10, 20, 30, 40, 50, 60, 70, 80, 90, 100, 110], "labelExpr": "datum.value % 20 == 0 && datum.value >= 0 && datum.value <= 100 ? datum.label : ''", "tickSize": 4, "labelPadding": 34, "labelAlign": "right", "labelBaseline": "middle", "labelOverlap": false, "labelBound": false}},
  "y2": {"datum": -28.5}}},
{"data": {"name": "rsi"},
 "mark": {"type": "line", "color": "#000000", "strokeWidth": 1},
 "encoding": {
  "x": {"field": "i", "type": "quantitative", "scale": {"domain": [-1.8, 107.15], "nice": false, "zero": false}, "axis": {"orient": "bottom", "title": "日线", "titleX": 441, "titleY": 8, "titleAlign": "left", "titleBaseline": "middle", "titleAnchor": "start", "titleFont": "Noto Sans CJK SC", "titleFontSize": 12, "titleFontWeight": "normal", "titleColor": "#000000", "values": [7.5, 12.5, 17.5, 22.5, 25.5, 32.5, 37.5, 42.5, 47.5, 52.5, 57.5, 62.5, 68.5, 72.5, 77.5, 82.5, 87.5, 91.5, 96.7, 101.7], "tickSize": 4, "labelExpr": "datum.value == 7.5 ? '06' : datum.value == 25.5 ? '08' : datum.value == 47.5 ? '09' : datum.value == 68.5 ? '10' : datum.value == 91.5 ? '11' : ''", "labelAlign": "left", "labelBaseline": "middle", "labelPadding": 4, "labelOffset": 1, "labelOverlap": false, "labelFlush": false, "labelBound": false}},
  "y": {"field": "v", "type": "quantitative", "scale": {"domain": [-16.2, 125.2], "nice": false, "zero": false}, "axis": {"orient": "right", "title": null, "values": [-10, 0, 10, 20, 30, 40, 50, 60, 70, 80, 90, 100, 110], "labelExpr": "datum.value % 20 == 0 && datum.value >= 0 && datum.value <= 100 ? datum.label : ''", "tickSize": 4, "labelPadding": 34, "labelAlign": "right", "labelBaseline": "middle", "labelOverlap": false, "labelBound": false}}}},
{"data": {"name": "rsima"},
 "mark": {"type": "line", "color": "#0000ff", "strokeWidth": 3},
 "encoding": {
  "x": {"field": "i", "type": "quantitative", "scale": {"domain": [-1.8, 107.15], "nice": false, "zero": false}, "axis": {"orient": "bottom", "title": "日线", "titleX": 441, "titleY": 8, "titleAlign": "left", "titleBaseline": "middle", "titleAnchor": "start", "titleFont": "Noto Sans CJK SC", "titleFontSize": 12, "titleFontWeight": "normal", "titleColor": "#000000", "values": [7.5, 12.5, 17.5, 22.5, 25.5, 32.5, 37.5, 42.5, 47.5, 52.5, 57.5, 62.5, 68.5, 72.5, 77.5, 82.5, 87.5, 91.5, 96.7, 101.7], "tickSize": 4, "labelExpr": "datum.value == 7.5 ? '06' : datum.value == 25.5 ? '08' : datum.value == 47.5 ? '09' : datum.value == 68.5 ? '10' : datum.value == 91.5 ? '11' : ''", "labelAlign": "left", "labelBaseline": "middle", "labelPadding": 4, "labelOffset": 1, "labelOverlap": false, "labelFlush": false, "labelBound": false}},
  "y": {"field": "v", "type": "quantitative", "scale": {"domain": [-16.2, 125.2], "nice": false, "zero": false}, "axis": {"orient": "right", "title": null, "values": [-10, 0, 10, 20, 30, 40, 50, 60, 70, 80, 90, 100, 110], "labelExpr": "datum.value % 20 == 0 && datum.value >= 0 && datum.value <= 100 ? datum.label : ''", "tickSize": 4, "labelPadding": 34, "labelAlign": "right", "labelBaseline": "middle", "labelOverlap": false, "labelBound": false}}}},
{"data": {"name": "vmark"},
 "mark": {"type": "line", "color": "#ff0000", "strokeWidth": 3},
 "encoding": {
  "x": {"field": "i", "type": "quantitative", "scale": {"domain": [-1.8, 107.15], "nice": false, "zero": false}, "axis": {"orient": "bottom", "title": "日线", "titleX": 441, "titleY": 8, "titleAlign": "left", "titleBaseline": "middle", "titleAnchor": "start", "titleFont": "Noto Sans CJK SC", "titleFontSize": 12, "titleFontWeight": "normal", "titleColor": "#000000", "values": [7.5, 12.5, 17.5, 22.5, 25.5, 32.5, 37.5, 42.5, 47.5, 52.5, 57.5, 62.5, 68.5, 72.5, 77.5, 82.5, 87.5, 91.5, 96.7, 101.7], "tickSize": 4, "labelExpr": "datum.value == 7.5 ? '06' : datum.value == 25.5 ? '08' : datum.value == 47.5 ? '09' : datum.value == 68.5 ? '10' : datum.value == 91.5 ? '11' : ''", "labelAlign": "left", "labelBaseline": "middle", "labelPadding": 4, "labelOffset": 1, "labelOverlap": false, "labelFlush": false, "labelBound": false}},
  "y": {"field": "v", "type": "quantitative", "scale": {"domain": [-16.2, 125.2], "nice": false, "zero": false}, "axis": {"orient": "right", "title": null, "values": [-10, 0, 10, 20, 30, 40, 50, 60, 70, 80, 90, 100, 110], "labelExpr": "datum.value % 20 == 0 && datum.value >= 0 && datum.value <= 100 ? datum.label : ''", "tickSize": 4, "labelPadding": 34, "labelAlign": "right", "labelBaseline": "middle", "labelOverlap": false, "labelBound": false}}}},
{"data": {"name": "sigup"},
 "mark": {"type": "point", "shape": "triangle-up", "filled": true, "color": "#00e000", "size": 40, "opacity": 1},
 "encoding": {
  "x": {"field": "i", "type": "quantitative", "scale": {"domain": [-1.8, 107.15], "nice": false, "zero": false}, "axis": {"orient": "bottom", "title": "日线", "titleX": 441, "titleY": 8, "titleAlign": "left", "titleBaseline": "middle", "titleAnchor": "start", "titleFont": "Noto Sans CJK SC", "titleFontSize": 12, "titleFontWeight": "normal", "titleColor": "#000000", "values": [7.5, 12.5, 17.5, 22.5, 25.5, 32.5, 37.5, 42.5, 47.5, 52.5, 57.5, 62.5, 68.5, 72.5, 77.5, 82.5, 87.5, 91.5, 96.7, 101.7], "tickSize": 4, "labelExpr": "datum.value == 7.5 ? '06' : datum.value == 25.5 ? '08' : datum.value == 47.5 ? '09' : datum.value == 68.5 ? '10' : datum.value == 91.5 ? '11' : ''", "labelAlign": "left", "labelBaseline": "middle", "labelPadding": 4, "labelOffset": 1, "labelOverlap": false, "labelFlush": false, "labelBound": false}},
  "y": {"field": "v", "type": "quantitative", "scale": {"domain": [-16.2, 125.2], "nice": false, "zero": false}, "axis": {"orient": "right", "title": null, "values": [-10, 0, 10, 20, 30, 40, 50, 60, 70, 80, 90, 100, 110], "labelExpr": "datum.value % 20 == 0 && datum.value >= 0 && datum.value <= 100 ? datum.label : ''", "tickSize": 4, "labelPadding": 34, "labelAlign": "right", "labelBaseline": "middle", "labelOverlap": false, "labelBound": false}}}},
{"data": {"name": "sigdown"},
 "mark": {"type": "point", "shape": "triangle-down", "filled": true, "color": "#ff0000", "size": 40, "opacity": 1},
 "encoding": {
  "x": {"field": "i", "type": "quantitative", "scale": {"domain": [-1.8, 107.15], "nice": false, "zero": false}, "axis": {"orient": "bottom", "title": "日线", "titleX": 441, "titleY": 8, "titleAlign": "left", "titleBaseline": "middle", "titleAnchor": "start", "titleFont": "Noto Sans CJK SC", "titleFontSize": 12, "titleFontWeight": "normal", "titleColor": "#000000", "values": [7.5, 12.5, 17.5, 22.5, 25.5, 32.5, 37.5, 42.5, 47.5, 52.5, 57.5, 62.5, 68.5, 72.5, 77.5, 82.5, 87.5, 91.5, 96.7, 101.7], "tickSize": 4, "labelExpr": "datum.value == 7.5 ? '06' : datum.value == 25.5 ? '08' : datum.value == 47.5 ? '09' : datum.value == 68.5 ? '10' : datum.value == 91.5 ? '11' : ''", "labelAlign": "left", "labelBaseline": "middle", "labelPadding": 4, "labelOffset": 1, "labelOverlap": false, "labelFlush": false, "labelBound": false}},
  "y": {"field": "v", "type": "quantitative", "scale": {"domain": [-16.2, 125.2], "nice": false, "zero": false}, "axis": {"orient": "right", "title": null, "values": [-10, 0, 10, 20, 30, 40, 50, 60, 70, 80, 90, 100, 110], "labelExpr": "datum.value % 20 == 0 && datum.value >= 0 && datum.value <= 100 ? datum.label : ''", "tickSize": 4, "labelPadding": 34, "labelAlign": "right", "labelBaseline": "middle", "labelOverlap": false, "labelBound": false}}}},
{"data": {"name": "hdr"},
 "mark": {"type": "text", "font": "Liberation Sans, Noto Sans CJK SC", "fontSize": 12.3, "align": "left", "baseline": "middle"},
 "encoding": {
  "x": {"field": "i", "type": "quantitative", "scale": {"domain": [-1.8, 107.15], "nice": false, "zero": false}, "axis": {"orient": "bottom", "title": "日线", "titleX": 441, "titleY": 8, "titleAlign": "left", "titleBaseline": "middle", "titleAnchor": "start", "titleFont": "Noto Sans CJK SC", "titleFontSize": 12, "titleFontWeight": "normal", "titleColor": "#000000", "values": [7.5, 12.5, 17.5, 22.5, 25.5, 32.5, 37.5, 42.5, 47.5, 52.5, 57.5, 62.5, 68.5, 72.5, 77.5, 82.5, 87.5, 91.5, 96.7, 101.7], "tickSize": 4, "labelExpr": "datum.value == 7.5 ? '06' : datum.value == 25.5 ? '08' : datum.value == 47.5 ? '09' : datum.value == 68.5 ? '10' : datum.value == 91.5 ? '11' : ''", "labelAlign": "left", "labelBaseline": "middle", "labelPadding": 4, "labelOffset": 1, "labelOverlap": false, "labelFlush": false, "labelBound": false}},
  "y": {"datum": 118, "type": "quantitative", "scale": {"domain": [-16.2, 125.2], "nice": false, "zero": false}, "axis": {"orient": "right", "title": null, "values": [-10, 0, 10, 20, 30, 40, 50, 60, 70, 80, 90, 100, 110], "labelExpr": "datum.value % 20 == 0 && datum.value >= 0 && datum.value <= 100 ? datum.label : ''", "tickSize": 4, "labelPadding": 34, "labelAlign": "right", "labelBaseline": "middle", "labelOverlap": false, "labelBound": false}},
  "text": {"field": "t"},
  "color": {"field": "col", "type": "nominal", "scale": {"domain": ["k", "r", "b", "c"], "range": ["#000000", "#ff0000", "#1f3fff", "#1e90ff"]}, "legend": null}}}
]
}
]
}
